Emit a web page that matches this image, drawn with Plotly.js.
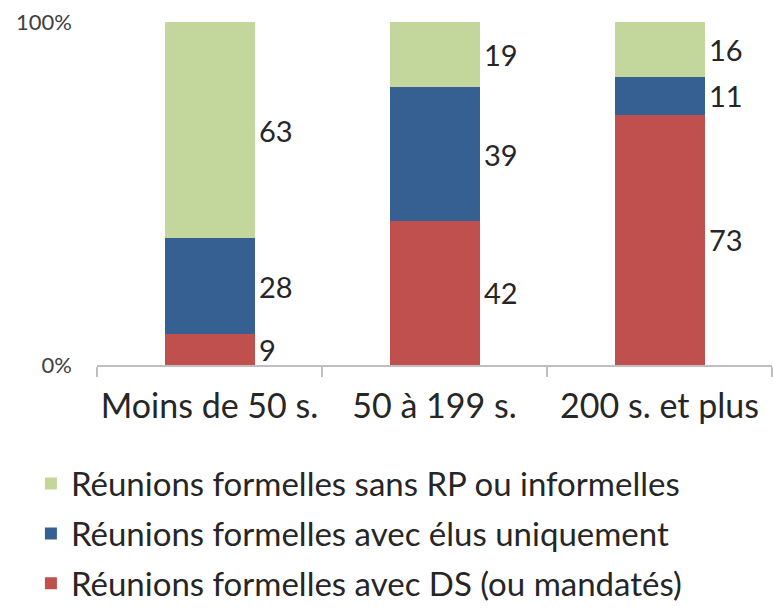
<!DOCTYPE html>
<html>
<head>
<meta charset="utf-8">
<script src="https://cdn.plot.ly/plotly-3.0.1.min.js"></script>
<style>
  body { margin: 0; background: #fff; }
  #chart { width: 773px; height: 609px; }
</style>
</head>
<body>
<div id="chart"></div>
<script>
// categories and shares (%), bottom to top
var categories = ["Moins de 50 s.", "50 à 199 s.", "200 s. et plus"];
var avecDS = [9, 42, 73];
var elusSeuls = [28, 39, 11];
var sansRP = [63, 19, 16];

var seriesNames = [
  "Réunions formelles avec DS (ou mandatés)",
  "Réunions formelles avec élus uniquement",
  "Réunions formelles sans RP ou informelles"
];
var seriesColors = ["#C0504D", "#376092", "#C3D69B"];
var seriesValues = [avecDS, elusSeuls, sansRP];

var font = "Lato, 'Open Sans', sans-serif";

var traces = seriesValues.map(function (vals, i) {
  return {
    x: categories,
    y: vals,
    name: seriesNames[i],
    type: "bar",
    marker: {color: seriesColors[i]},
    legendgroup: "g" + i,
    legendrank: 3 - i,   // green on top in the legend
    hoverinfo: "skip"
  };
});

// value labels to the right of each segment, at its middle
var annotations = [];
categories.forEach(function (cat, c) {
  var base = 0;
  seriesValues.forEach(function (vals) {
    annotations.push({
      x: cat,
      y: base + vals[c] / 2,
      text: String(vals[c]),
      showarrow: false,
      xanchor: "left",
      xshift: 47,
      font: {family: font, size: 29, color: "#262626"}
    });
    base += vals[c];
  });
});

var layout = {
  width: 773,
  height: 609,
  barmode: "stack",
  bargap: 0.6,
  margin: {l: 97, r: 1, t: 22, b: 244, autoexpand: false},
  paper_bgcolor: "#fff",
  plot_bgcolor: "#fff",
  showlegend: true,
  legend: {
    xref: "container", x: 0.04, xanchor: "left",
    yref: "container", y: 0.252, yanchor: "top",
    traceorder: "grouped",
    tracegroupgap: 4,
    font: {family: font, size: 33, color: "#262626"},
    itemwidth: 30
  },
  xaxis: {
    type: "category",
    showline: true,
    linecolor: "#BFBFBF",
    linewidth: 2,
    ticks: "outside",
    tickson: "boundaries",
    ticklen: 10,
    tickcolor: "#BFBFBF",
    tickwidth: 2,
    tickangle: 0,
    ticklabelstandoff: 10,
    tickfont: {family: font, size: 34, color: "#262626"},
    showgrid: false
  },
  yaxis: {
    range: [0, 100],
    tickvals: [0, 100],
    ticktext: ["0%", "100%"],
    showgrid: true,
    gridcolor: "#BFBFBF",
    gridwidth: 2,
    zeroline: false,
    showline: false,
    ticks: "",
    ticklabelstandoff: 24,
    tickfont: {family: font, size: 22, color: "#404040"}
  },
  annotations: annotations
};

Plotly.newPlot("chart", traces, layout, {displayModeBar: false, staticPlot: true});
</script>
</body>
</html>
